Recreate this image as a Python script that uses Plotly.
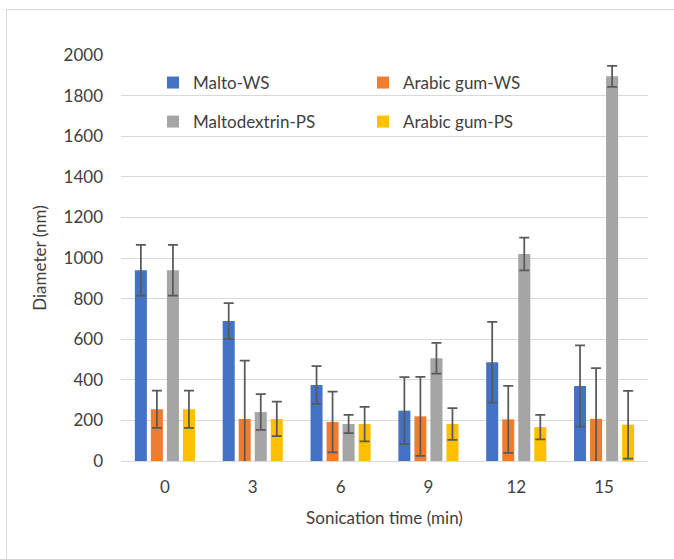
import plotly.graph_objects as go

categories = ["0", "3", "6", "9", "12", "15"]

malto_ws = [940, 690, 374, 248, 486, 369]
malto_ws_err = [125, 88, 93, 165, 199, 200]

arabic_ws = [255, 207, 192, 220, 205, 208]
arabic_ws_err = [92, 287, 150, 195, 165, 250]

maltodextrin_ps = [940, 241, 182, 506, 1020, 1895]
maltodextrin_ps_err = [125, 88, 45, 76, 81, 52]

arabic_ps = [255, 207, 182, 182, 167, 179]
arabic_ps_err = [92, 85, 85, 78, 60, 167]

series = [
    ("Malto-WS", malto_ws, malto_ws_err, "#4472C4", "legend"),
    ("Arabic gum-WS", arabic_ws, arabic_ws_err, "#ED7D31", "legend"),
    ("Maltodextrin-PS", maltodextrin_ps, maltodextrin_ps_err, "#A5A5A5", "legend2"),
    ("Arabic gum-PS", arabic_ps, arabic_ps_err, "#FFC000", "legend2"),
]

FONT = "Lato, Noto Sans, sans-serif"
TXT = "#404040"
FS = 17

fig = go.Figure()
for name, vals, errs, color, lg in series:
    fig.add_trace(go.Bar(
        name=name, x=categories, y=vals,
        marker=dict(color=color, line=dict(width=0)),
        error_y=dict(type="data", array=errs, visible=True,
                     color="#595959", thickness=1.75, width=5),
        legend=lg,
    ))

L, R, T, B = 121, 26, 55, 98
W, H = 674, 559
pw = W - L - R
ph = H - T - B

def px_x(p):
    return (p - L) / pw

def px_y(p):
    return (H - B - p) / ph

legend_common = dict(
    orientation="h", xanchor="left", yanchor="middle",
    bgcolor="rgba(0,0,0,0)", borderwidth=0,
    font=dict(family=FONT, size=FS, color=TXT),
    entrywidth=165, entrywidthmode="pixels",
    itemclick=False, itemdoubleclick=False,
    traceorder="normal",
)

fig.update_layout(
    width=W, height=H,
    margin=dict(l=L, r=R, t=T, b=B, autoexpand=False),
    paper_bgcolor="white", plot_bgcolor="white",
    barmode="group", bargap=0.27, bargroupgap=0.25,
    font=dict(family=FONT, size=FS, color=TXT),
    legend=dict(x=px_x(153), y=px_y(83), **legend_common),
    legend2=dict(x=px_x(153), y=px_y(122), **legend_common),
    showlegend=True,
    xaxis=dict(
        type="category", showgrid=False, showline=True,
        linecolor="#D9D9D9", linewidth=1, ticks="",
        ticklabelstandoff=11,
        tickfont=dict(family=FONT, size=FS, color=TXT),
        title=dict(text="Sonication time (min)", standoff=15,
                   font=dict(family=FONT, size=FS, color=TXT)),
        fixedrange=True,
    ),
    yaxis=dict(
        range=[0, 2000], dtick=200, showgrid=True,
        gridcolor="#D9D9D9", gridwidth=1, zeroline=False,
        showline=False, ticks="",
        ticklabelstandoff=17,
        tickfont=dict(family=FONT, size=FS, color=TXT),
        title=dict(text="Diameter (nm)", standoff=12,
                   font=dict(family=FONT, size=FS, color=TXT)),
        fixedrange=True,
    ),
    shapes=[dict(
        type="rect", xref="paper", yref="paper",
        x0=px_x(6.5), x1=px_x(690), y0=px_y(9.5), y1=px_y(580),
        line=dict(color="#D9D9D9", width=1), fillcolor="rgba(0,0,0,0)",
        layer="below",
    )],
)

fig.write_html(
    "out.html",
    config={"displayModeBar": False},
    post_script="document.body.style.margin='0';document.body.style.padding='0';",
)
